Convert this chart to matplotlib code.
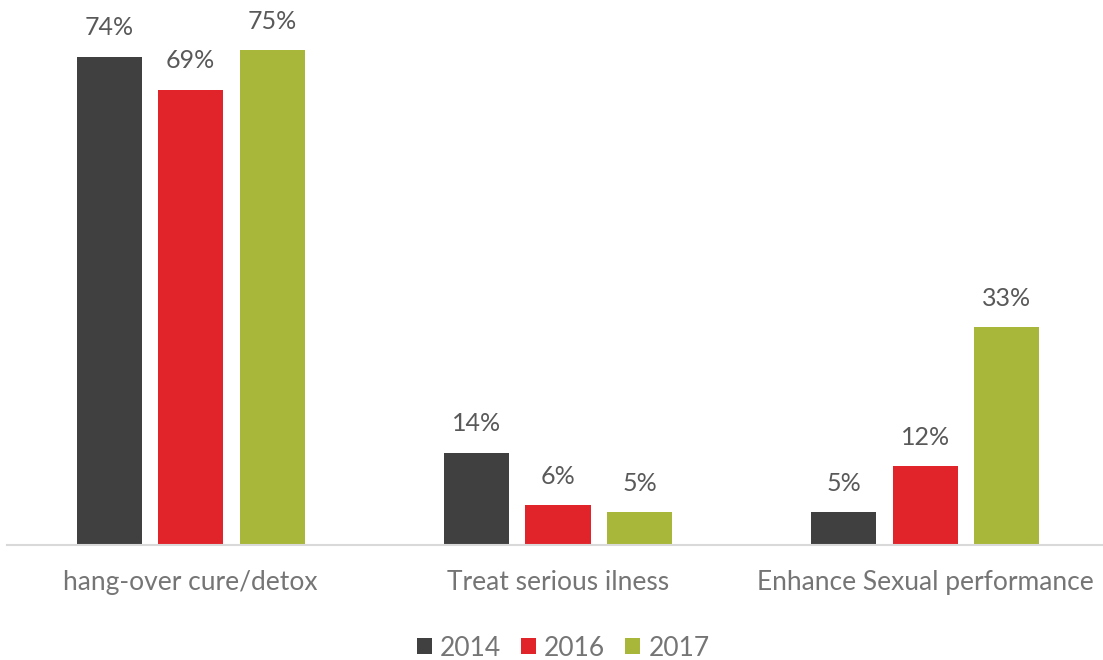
import matplotlib
matplotlib.use('Agg')
import matplotlib.pyplot as plt
import numpy as np

categories = ['hang-over cure/detox', 'Treat serious ilness', 'Enhance Sexual performance']
years = ['2014', '2016', '2017']
v2014 = [74, 14, 5]
v2016 = [69, 6, 12]
v2017 = [75, 5, 33]
colors = ['#404040', '#E0242A', '#A8B73A']

plt.rcParams['font.family'] = ['Lato', 'DejaVu Sans']

fig = plt.figure(figsize=(11.03, 6.6), dpi=100)
ax = fig.add_axes([7/1103, 115/660, 1102/1103, 528/660])

x = np.arange(len(categories))
w = 0.177
off = 0.222
for i, (vals, yr, c) in enumerate(zip([v2014, v2016, v2017], years, colors)):
    pos = x + (i - 1) * off
    bars = ax.bar(pos, vals, width=w, color=c, label=yr)
    for p, v in zip(pos, vals):
        ax.text(p, v + 2.6, f'{v}%', ha='center', va='bottom', fontsize=18, color='#595959')

ax.set_xlim(-0.5, 2.5)
ax.set_ylim(0, 80)
ax.set_yticks([])
ax.set_xticks(x)
ax.set_xticklabels(categories, fontsize=19, color='#757575')
ax.tick_params(axis='x', length=0, pad=18)
for s in ['top', 'right', 'left']:
    ax.spines[s].set_visible(False)
ax.spines['bottom'].set_color('#D9D9D9')
ax.spines['bottom'].set_linewidth(1.5)

fig.legend(loc='center', bbox_to_anchor=(563/1103, 1 - 648/660), ncol=3, frameon=False,
           fontsize=19, labelcolor='#757575', handlelength=0.58, handleheight=0.58,
           handletextpad=0.3, columnspacing=0.75)

fig.savefig('out.png', dpi=100)
